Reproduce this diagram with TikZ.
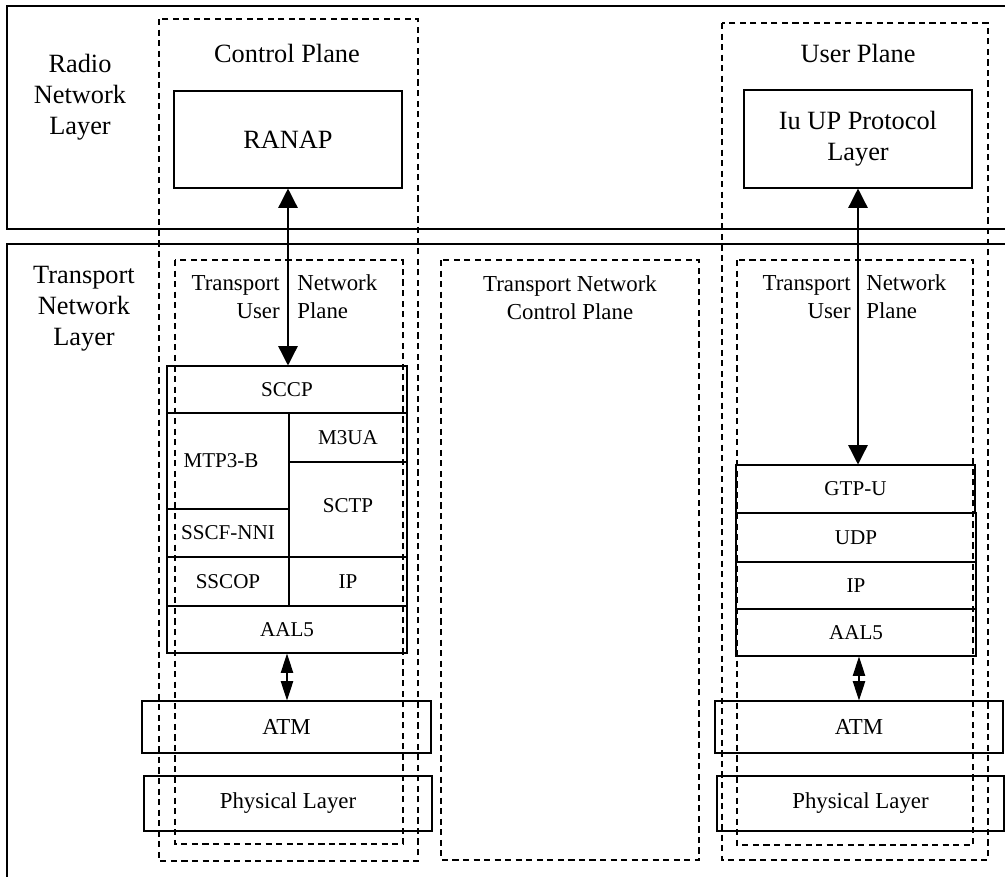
\documentclass[tikz,border=0pt]{standalone}
\usepackage{fontspec}
\setmainfont{Liberation Serif}
\usetikzlibrary{arrows.meta,fit}

\tikzset{
  plane/.style={draw, dash pattern=on 3.5pt off 2.5pt, line width=0.8pt},
  layer/.style={draw, line width=0.6pt, inner sep=0pt},
  stacklabel/.style={font=\fontsize{12}{14}\selectfont, inner sep=0pt},
  biglabel/.style={font=\fontsize{15}{17.6}\selectfont, align=center, inner sep=0pt},
  midlabel/.style={font=\fontsize{13}{16}\selectfont, inner sep=0pt},
  bothways/.style={{Triangle[length=11pt,width=11pt]}-{Triangle[length=11pt,width=11pt]}, line width=0.8pt},
  shortways/.style={{Triangle[length=11pt,width=7pt]}-{Triangle[length=11pt,width=7pt]}, line width=0.8pt},
}

\begin{document}
\begin{tikzpicture}[x=0.02cm, y=-0.02cm]
  \useasboundingbox[fill=white] (0,0) rectangle (1005,877);

  % layer frames
  \draw[line width=0.8pt] (1005,6) -- (7,6) -- (7,229) -- (1005,229);
  \draw[line width=0.8pt] (1005,244) -- (7,244) -- (7,877);

  % planes
  \draw[plane] (159,19) rectangle (418,861);
  \draw[plane] (175,260) rectangle (403,844);
  \draw[plane] (441,260) rectangle (699,860);
  \draw[plane] (722,23) rectangle (988,860);
  \draw[plane] (737,260) rectangle (973,845);

  % row and column titles
  \node[biglabel] (radio) at (80,97) {Radio\\Network\\Layer};
  \node[biglabel] (transp) at (84,309) {Transport\\Network\\Layer};
  \node[biglabel] (cplane) at (287,53) {Control Plane};
  \node[biglabel] (uplane) at (858,53) {User Plane};

  % radio network layer
  \node[layer, fit={(174,91) (402,188)}, label={[biglabel]center:RANAP}] (ranap) {};
  \node[layer, fit={(744,90) (972,188)}, label={[biglabel]center:{Iu UP Protocol\\Layer}}] (iuup) {};

  % control plane stack
  \node[midlabel, anchor=east, align=right] (tnuc) at (280,297) {Transport\\User};
  \node[midlabel, anchor=west, align=left] (tnpc) at (297,297) {Network\\Plane};
  \node[layer, fit={(167,366) (407,413)}, label={[stacklabel]center:SCCP}] (sccp) {};
  \node[layer, fit={(167,413) (289,509)}, label={[stacklabel, xshift=-0.14cm]center:MTP3-B}] (mtp) {};
  \node[layer, fit={(289,413) (407,462)}, label={[stacklabel]center:M3UA}] (m3ua) {};
  \node[layer, fit={(289,462) (407,557)}, label={[stacklabel, yshift=0.07cm]center:SCTP}] (sctp) {};
  \node[layer, fit={(167,509) (289,557)}, label={[stacklabel]center:SSCF-NNI}] (sscf) {};
  \node[layer, fit={(167,557) (289,606)}, label={[stacklabel]center:SSCOP}] (sscop) {};
  \node[layer, fit={(289,557) (407,606)}, label={[stacklabel]center:IP}] (ipc) {};
  \node[layer, fit={(167,606) (407,653)}, label={[stacklabel]center:AAL5}] (aalc) {};
  \node[layer, fit={(142,701) (431,753)}, label={[midlabel]center:ATM}] (atmc) {};
  \node[layer, fit={(144,776) (432,831)}, label={[midlabel]center:Physical Layer}] (phyc) {};

  % transport network control plane
  \node[midlabel, align=center] (tncp) at (570,298) {Transport Network\\Control Plane};

  % user plane stack
  \node[midlabel, anchor=east, align=right] (tnuu) at (851,297) {Transport\\User};
  \node[midlabel, anchor=west, align=left] (tnpu) at (866,297) {Network\\Plane};
  \node[layer, fit={(736,465) (975,513)}, label={[stacklabel]center:GTP-U}] (gtpu) {};
  \node[layer, fit={(736,513) (976,562)}, label={[stacklabel]center:UDP}] (udp) {};
  \node[layer, fit={(736,562) (976,609)}, label={[stacklabel]center:IP}] (ipu) {};
  \node[layer, fit={(736,609) (976,656)}, label={[stacklabel]center:AAL5}] (aalu) {};
  \node[layer, fit={(715,701) (1003,753)}, label={[midlabel]center:ATM}] (atmu) {};
  \node[layer, fit={(717,776) (1004,831)}, label={[midlabel]center:Physical Layer}] (phyu) {};

  % connectors
  \draw[bothways] (ranap.south) -- (ranap.south |- sccp.north);
  \draw[bothways] (iuup.south) -- (iuup.south |- gtpu.north);
  \draw[shortways] (aalc.south) -- (aalc.south |- atmc.north);
  \draw[shortways] (atmu.north |- aalu.south) -- (atmu.north);
\end{tikzpicture}
\end{document}
